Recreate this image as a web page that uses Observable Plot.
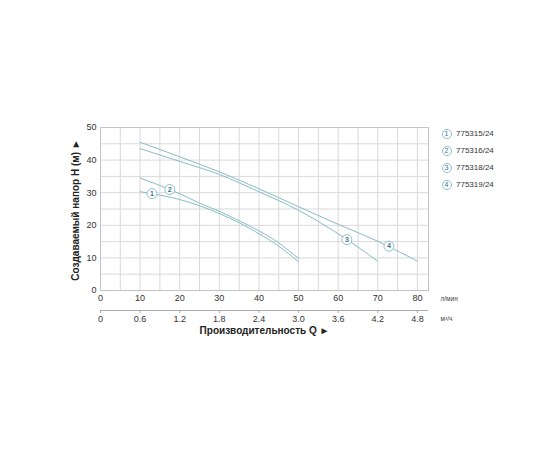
<!DOCTYPE html>
<html>
<head>
<meta charset="utf-8">
<script src="https://cdn.jsdelivr.net/npm/d3@7"></script>
<script src="https://cdn.jsdelivr.net/npm/@observablehq/plot@0.6"></script>
<style>
  html, body { margin: 0; padding: 0; background: #fff; }
  #wrap { position: relative; width: 560px; height: 460px; font-family: "Liberation Sans", Arial, sans-serif; }
  #legend { position: absolute; left: 441.5px; top: 125px; }
  .row { display: flex; align-items: center; height: 17px; }
  .badge { width: 10px; height: 10px; border: 1px solid #8fc0c9; border-radius: 50%; box-sizing: border-box;
           display: flex; align-items: center; justify-content: center; font-size: 7px; color: #3d7385; margin-right: 4.5px; background: #fff; }
  .lbl { font-size: 8px; color: #333; }
</style>
</head>
<body>
<div id="wrap"><div id="chart"></div><div id="legend"></div></div>
<script>
// Flow Q (л/мин) and head H (м) per pump model
const models = ["775315/24", "775316/24", "775318/24", "775319/24"];
const q1 = [10, 13, 20, 25, 30, 35, 40, 45, 50];
const h1 = [30.3, 29.7, 27.9, 26.0, 23.6, 20.8, 17.4, 13.6, 8.8];
const q2 = [10, 17.5, 20, 25, 30, 35, 40, 45, 50];
const h2 = [34.5, 31.0, 29.7, 26.8, 24.3, 21.4, 18.3, 14.6, 9.8];
const q3 = [10, 20, 30, 40, 50, 60, 70];
const h3 = [43.5, 39.6, 35.6, 30.3, 24.6, 17.4, 9.0];
const q4 = [10, 20, 30, 40, 50, 60, 70, 80];
const h4 = [45.5, 41.0, 36.4, 31.2, 25.7, 20.3, 15.1, 9.0];
// curve number badges (position on the curve)
const badgeId = ["1", "2", "3", "4"];
const badgeQ = [13, 17.5, 62.2, 72.8];
const badgeH = [29.7, 31.0, 15.6, 13.6];
// axes
const xMax = 82.8;
const xTicks = [0, 10, 20, 30, 40, 50, 60, 70, 80];
const m3Labels = ["0", "0.6", "1.2", "1.8", "2.4", "3.0", "3.6", "4.2", "4.8"];
const yTicks = [0, 10, 20, 30, 40, 50];
const xGrid = [5, 10, 15, 20, 25, 30, 35, 40, 45, 50, 55, 60, 65, 70, 75, 80];
const yGrid = [5, 10, 15, 20, 25, 30, 35, 40, 45];

const curves = [[q1, h1], [q2, h2], [q3, h3], [q4, h4]].flatMap(([q, h], i) =>
  q.map((x, j) => ({model: models[i], q: x, h: h[j]})));
const badges = badgeId.map((id, i) => ({id, q: badgeQ[i], h: badgeH[i]}));

const lineColor = "#88bcc6";
const gridColor = "#d9d9d9";
const font = "Liberation Sans, Arial, sans-serif";

const chart = Plot.plot({
  width: 560,
  height: 460,
  marginLeft: 100,
  marginRight: 132,
  marginTop: 127,
  marginBottom: 170,
  style: {fontFamily: font, fontSize: "9px", color: "#333", background: "#fff"},
  x: {domain: [0, xMax]},
  y: {domain: [0, 50]},
  marks: [
    Plot.ruleX(xGrid, {stroke: gridColor, strokeWidth: 1}),
    Plot.ruleY(yGrid, {stroke: gridColor, strokeWidth: 1}),
    Plot.frame({stroke: "#c4c4c4"}),
    Plot.axisX(xTicks, {anchor: "bottom", tickSize: 0, tickPadding: 4, label: null, fontSize: 9}),
    Plot.axisY(yTicks, {anchor: "left", tickSize: 0, tickPadding: 4, label: null, fontSize: 9}),
    // secondary axis (m³/h)
    Plot.ruleY([0], {x1: 0, x2: xMax, dy: 20, stroke: "#aaa"}),
    Plot.axisX(xTicks, {anchor: "bottom", tickSize: 3, tickPadding: 2.5, dy: 20, label: null, fontSize: 9,
      stroke: "#aaa", tickFormat: (d) => m3Labels[xTicks.indexOf(d)]}),
    // curves
    Plot.line(curves, {x: "q", y: "h", z: "model", stroke: lineColor, strokeWidth: 1, curve: "monotone-x"}),
    Plot.dot(badges, {x: "q", y: "h", r: 5, fill: "#fff", stroke: "#8fc0c9", strokeWidth: 1}),
    Plot.text(badges, {x: "q", y: "h", text: "id", fontSize: 7, fill: "#3d7385", fontWeight: "bold"}),
    // titles
    Plot.text(["Создаваемый напор H (м) ►"], {frameAnchor: "left", textAnchor: "middle", lineAnchor: "middle", dx: -25, dy: 1, rotate: -90, fontSize: 10, fontWeight: "bold", fill: "#222"}),
    Plot.text(["Производительность Q ►"], {frameAnchor: "bottom", textAnchor: "middle", lineAnchor: "middle", dy: 40, fontSize: 10, fontWeight: "bold", fill: "#222"}),
    Plot.text(["л/мин"], {frameAnchor: "bottom-right", lineAnchor: "middle", dx: 12, dy: 8, textAnchor: "start", fontSize: 6.5, fill: "#444"}),
    Plot.text(["м³/ч"], {frameAnchor: "bottom-right", lineAnchor: "middle", dx: 12, dy: 28, textAnchor: "start", fontSize: 6.5, fill: "#444"})
  ]
});
document.getElementById("chart").appendChild(chart);

const legend = document.getElementById("legend");
models.forEach((m, i) => {
  const row = document.createElement("div");
  row.className = "row";
  row.innerHTML = `<span class="badge">${badgeId[i]}</span><span class="lbl">${m}</span>`;
  legend.appendChild(row);
});
</script>
</body>
</html>
